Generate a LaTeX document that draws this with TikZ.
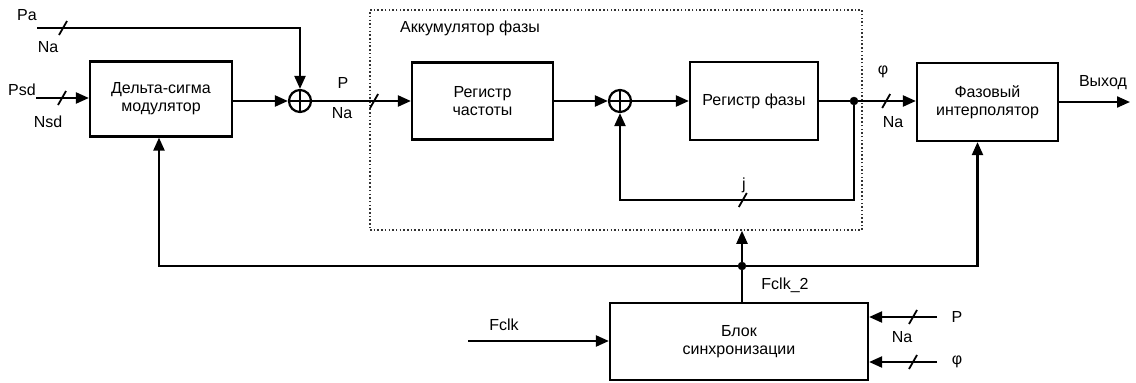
\documentclass[tikz,border=0pt]{standalone}
\usepackage{fontspec}
\setmainfont{Liberation Sans}
\usetikzlibrary{arrows.meta,decorations.markings}
\newcommand{\sigfont}{\fontsize{16}{18}\selectfont}
\tikzset{
    block/.style = {rectangle, draw=black, line width=2.2pt, align=center, font=\sigfont, inner sep=0pt},
    sum/.style = {circle, draw=black, line width=2.2pt, minimum size=22pt, inner sep=0pt, path picture={\draw[line width=2pt] (path picture bounding box.north) -- (path picture bounding box.south) (path picture bounding box.west) -- (path picture bounding box.east);}},
    junction/.style = {circle, draw=black, fill=black, inner sep=0pt, minimum size=8pt},
    sig/.style = {font=\sigfont, inner sep=0pt},
    wire/.style = {line width=2.2pt},
    arrow/.style = {wire, -{Triangle[length=13pt,width=11pt]}},
    busmark/.style = {postaction={decorate}, decoration={markings, mark=at position #1 with {\draw[-, line width=1.8pt] (-4,7) -- (4,-7);}}},
    frame/.style = {draw=black!80, line width=1.5pt, dash pattern=on 1.5pt off 2.2pt}
}

\begin{document}
\begin{tikzpicture}[x=1pt, y=-1pt]
\useasboundingbox (0,0) rectangle (1136,383);
\node (acc) [frame, minimum width=492pt, minimum height=220pt] at (616,120) {};
\node (acctitle) [sig, anchor=west] at (400,28) {Аккумулятор фазы};
\node (dsm) [block, minimum width=142pt, minimum height=75pt] at (161,99) {Дельта-сигма\\модулятор};
\node (sum1) [sum] at (300,101) {};
\node (reg1) [block, minimum width=141pt, minimum height=77pt] at (482.5,101) {Регистр\\частоты};
\node (sum2) [sum] at (620,101) {};
\node (reg2) [block, minimum width=128pt, minimum height=78pt] at (754,101) {Регистр фазы};
\node (dot) [junction] at (854,101) {};
\node (interp) [block, minimum width=141pt, minimum height=78pt] at (987.5,102) {Фазовый\\интерполятор};
\node (sync) [block, minimum width=258pt, minimum height=77pt] at (739,341.5) {Блок\\синхронизации};
\node (bus) [junction] at (742,266) {};
\coordinate (pa) at (37,28);
\coordinate (psd) at (36,98);
\coordinate (out) at (1130,102);
\coordinate (fclk) at (468,341);
\coordinate (pin) at (937,317);
\coordinate (phin) at (937,362);

\node (lpa) [sig] at (27,15) {Pa};
\node (lna1) [sig] at (48,47) {Na};
\node (lpsd) [sig] at (22,90) {Psd};
\node (lnsd) [sig] at (48,122) {Nsd};
\node (lp1) [sig] at (343,83) {P};
\node (lna2) [sig] at (342,113) {Na};
\node (lphi1) [sig] at (883,72) {φ};
\node (lna3) [sig] at (893,122) {Na};
\node (lout) [sig] at (1103,83) {Выход};
\node (lj) [sig] at (744,185) {j};
\node (lfclk2) [sig] at (785,285) {Fclk\_2};
\node (lfclk) [sig] at (504,325) {Fclk};
\node (lp2) [sig] at (957,317) {P};
\node (lna4) [sig] at (902,337) {Na};
\node (lphi2) [sig] at (957,362) {φ};

\draw [arrow, busmark=26pt] (pa) -| (sum1.north);
\draw [arrow, busmark=26pt] (psd) -- (psd -| dsm.west);
\draw [arrow] (dsm.east |- sum1) -- (sum1.west);
\draw [arrow, busmark=62pt] (sum1.east) -- (reg1.west);
\draw [arrow] (reg1.east) -- (sum2.west);
\draw [arrow] (sum2.east) -- (reg2.west);
\draw [wire] (reg2.east) -- (dot);
\draw [arrow, busmark=28pt] (dot) -- (dot -| interp.west);
\draw [arrow] (interp.east |- out) -- (out);
\draw [arrow, busmark=206pt] (dot) -- ++(0,99) -| (sum2.south);
\draw [arrow] (bus) -| ([xshift=-2pt]dsm.south);
\draw [arrow] (bus) -| ([xshift=-10pt]interp.south);
\draw [wire] (bus |- sync.north) -- (bus);
\draw [arrow] (bus) -- (bus |- acc.south);
\draw [arrow] (fclk) -- (fclk -| sync.west);
\draw [arrow, busmark=24pt] (pin) -- (pin -| sync.east);
\draw [arrow, busmark=24pt] (phin) -- (phin -| sync.east);
\end{tikzpicture}
\end{document}
